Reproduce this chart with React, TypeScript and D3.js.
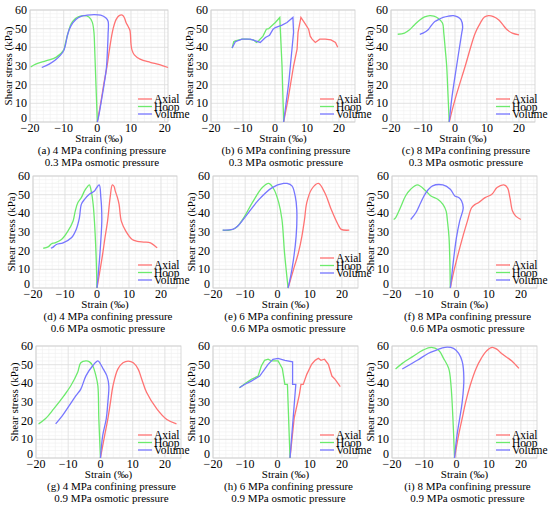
import React from 'react';
import * as d3 from 'd3';

type Pt = [number, number];

const panelLetters = ['a', 'b', 'c', 'd', 'e', 'f', 'g', 'h', 'i'];
const confining = [4, 6, 8, 4, 6, 8, 4, 6, 8];
const osmotic = [0.3, 0.3, 0.3, 0.6, 0.6, 0.6, 0.9, 0.9, 0.9];
const seriesNames = ['Axial', 'Hoop', 'Volume'];
const xTicks = [-20, -10, 0, 10, 20];
const yTicks = [0, 10, 20, 30, 40, 50, 60];

// (a) 4 MPa / 0.3 MPa
const axialA: Pt[] = [[0, 0], [1.0, 10], [1.9, 20], [2.9, 30], [3.7, 40], [4.7, 50], [5.6, 55], [6.5, 57], [7.4, 57.3], [8.0, 56], [8.5, 53.5], [9.2, 51], [9.7, 49], [10.0, 42], [10.3, 38.5], [11, 36], [12.7, 33.7], [15.7, 32], [18.5, 30.8], [21, 29.2]];
const hoopA: Pt[] = [[0, 0], [-0.2, 10], [-0.4, 20], [-0.6, 30], [-0.8, 40], [-1.0, 48], [-1.5, 53.5], [-2.5, 56.3], [-4, 57], [-5.5, 56.5], [-6.5, 55.5], [-7.8, 52.5], [-8.8, 47], [-9.5, 42], [-10, 38.5], [-12.3, 34.6], [-15.3, 32.8], [-18.3, 31], [-19.8, 29.5]];
const volumeA: Pt[] = [[0, 0], [0.4, 3], [1.2, 11.3], [2.0, 20], [2.7, 29], [3.0, 38], [3.2, 47], [3.2, 54], [2.5, 55.8], [1, 57.2], [-1, 57.5], [-3, 57.2], [-5, 56.5], [-6.3, 55], [-7.8, 51.6], [-8.8, 47], [-9.5, 41], [-10.2, 37.5], [-12.3, 33.5], [-14.3, 31], [-16.5, 29.2]];

// (b) 6 MPa / 0.3 MPa
const axialB: Pt[] = [[2.7, 0], [4.1, 12.4], [5.8, 30], [6.9, 39], [7.2, 48], [8.1, 56], [9.5, 52.4], [10.5, 49.7], [11, 46], [11.6, 44.4], [12.6, 42.6], [14, 44.4], [15.7, 44.4], [17.5, 44], [18.9, 42.6], [19.6, 40]];
const hoopB: Pt[] = [[2.7, 0], [2.2, 30], [1.7, 48], [1.5, 56], [0.1, 53.3], [-2, 50], [-2.7, 49.7], [-3.75, 46], [-5.1, 43.5], [-5.8, 42.6], [-6.7, 44], [-8.75, 44.4], [-10.3, 44.4], [-12.4, 43.5], [-12.9, 43], [-13.4, 39.6]];
const volumeB: Pt[] = [[2.7, 0], [4.3, 21], [5.3, 39], [5.8, 48], [5.6, 56], [3.75, 53.3], [2.2, 51.9], [0.1, 50.6], [-0.6, 49.7], [-1.7, 46.5], [-3, 45.3], [-4.6, 42.6], [-6.1, 43.5], [-7.7, 44.4], [-10.3, 44.4], [-12.4, 43], [-13.4, 39.6]];

// (c) 8 MPa / 0.3 MPa
const axialC: Pt[] = [[-1.8, 0], [0, 12], [3.2, 30], [6.3, 47.6], [7.9, 53], [9.2, 56.2], [10.5, 57], [12, 56.5], [13.7, 54.7], [15, 52], [16.3, 49.4], [17.9, 47.6], [20, 46.7]];
const hoopC: Pt[] = [[-1.8, 0], [-2.2, 15], [-2.6, 30], [-3.1, 40], [-3.5, 47.6], [-3.9, 53], [-5.3, 55.6], [-6.6, 56.7], [-7.9, 57], [-9.5, 56.3], [-11, 54.7], [-12.7, 52], [-14.2, 49.4], [-15.8, 47.6], [-17.9, 47]];
const volumeC: Pt[] = [[-1.8, 0], [-1.05, 12], [0.5, 30], [2.1, 47.6], [2.4, 51], [1.9, 54.7], [0.8, 56.3], [-0.5, 57], [-2, 56.7], [-3.7, 56], [-5, 55], [-6.3, 53.8], [-7.5, 51.5], [-8.4, 49.4], [-10, 47.6], [-11, 47]];

// (d) 4 MPa / 0.6 MPa
const axialD: Pt[] = [[0, 0], [0.8, 8], [1.75, 18], [2.5, 27], [3.3, 35.8], [4.1, 48.4], [4.8, 55.2], [5.3, 54.5], [5.7, 52], [6.4, 48.4], [6.9, 44.8], [7.6, 35.8], [9.0, 30.5], [11, 26], [12.6, 25], [14.6, 24.6], [16.7, 24.2], [18.2, 22.4], [18.8, 21.5]];
const hoopD: Pt[] = [[0, 0], [-0.3, 18], [-0.8, 35.8], [-1.2, 44.8], [-1.7, 51], [-2.4, 55.2], [-3.1, 54], [-3.9, 52], [-4.9, 48.4], [-6, 45.7], [-6.8, 41.2], [-7.5, 35.8], [-9.1, 30.5], [-11.1, 26], [-13.2, 24.2], [-14.2, 23.7], [-15.3, 22], [-16.8, 21.3]];
const volumeD: Pt[] = [[0, 0], [0.9, 18], [1.5, 35.8], [1.4, 44], [1.2, 48.4], [0.7, 55.2], [-0.2, 53.5], [-0.8, 52], [-2.4, 50.2], [-3.9, 47.5], [-4.9, 44.8], [-5.5, 37.6], [-6.5, 31.4], [-8, 26.9], [-10.6, 24.2], [-12.7, 23.3], [-13.7, 21.9], [-14.4, 21.3]];

// (e) 6 MPa / 0.6 MPa
const axialE: Pt[] = [[3.3, 0], [5, 10], [6.5, 18.8], [7.6, 27.8], [8.4, 36.7], [9.1, 45.7], [10.6, 52.9], [12.7, 56], [14.7, 51], [16.7, 42], [18.8, 34], [19.8, 31.4], [22.3, 31]];
const hoopE: Pt[] = [[3.3, 0], [2.2, 18.8], [1.4, 36.7], [0.4, 45.7], [-1.1, 52.9], [-2.7, 56], [-4.7, 53.8], [-7.8, 45.7], [-10.8, 36.7], [-12.9, 32.3], [-14.9, 31], [-17, 31]];
const volumeE: Pt[] = [[3.3, 0], [4.5, 10], [5.8, 27.8], [6, 42], [5.5, 49.3], [4.5, 54.7], [3, 56], [1.9, 56], [-1.6, 53.8], [-5.7, 47.5], [-9.8, 38.5], [-12.3, 33.2], [-13.9, 31.4], [-17, 31]];

// (f) 8 MPa / 0.6 MPa
const axialF: Pt[] = [[-1.9, 0], [-0.8, 9], [0.5, 18], [1.9, 27], [3.4, 35.8], [4.7, 43], [5.8, 44.8], [6.8, 45.7], [8.9, 48.4], [11, 50.2], [12.6, 53.8], [14.7, 55.2], [15.8, 53.8], [16.6, 48.4], [17.4, 41.2], [18.4, 38.5], [20, 36.7]];
const hoopF: Pt[] = [[-1.9, 0], [-2.3, 27], [-2.8, 36], [-3.2, 41.2], [-4.2, 44.8], [-5.8, 47.5], [-7.9, 49.3], [-9.5, 52], [-12.1, 55.2], [-14.2, 52.9], [-15.8, 49.3], [-17.4, 43], [-18.9, 37.6], [-19.5, 36.7]];
const volumeF: Pt[] = [[-1.9, 0], [-1.3, 9], [-0.7, 18], [0, 27], [1, 35.8], [2.1, 43], [1.6, 46.6], [0.8, 48.4], [-0.5, 49.3], [-1.9, 52.9], [-4.2, 55.2], [-7.4, 54.7], [-9.5, 51], [-11.1, 45.7], [-12.6, 40.3], [-14.2, 36.7]];

// (g) 4 MPa / 0.9 MPa
const axialG: Pt[] = [[0, 0], [1.3, 12], [2.3, 21], [3.1, 29.8], [3.9, 38.7], [5.4, 47.6], [7, 51], [8.6, 51.9], [10.2, 51], [11.7, 47.6], [12.8, 42.3], [14.3, 35.2], [17.5, 26.3], [20.6, 20.6], [23.6, 18.3]];
const hoopG: Pt[] = [[0, 0], [-0.5, 21], [-0.8, 38.7], [-1.4, 44], [-2.4, 49.4], [-3.4, 51.5], [-4.5, 52], [-6.1, 51], [-7.1, 45.8], [-9.2, 38.7], [-11.3, 33.4], [-14.5, 26.3], [-17.1, 21], [-19.2, 18.3]];
const volumeG: Pt[] = [[0, 0], [0.7, 12], [1.8, 21], [2.3, 29.8], [2.6, 38.7], [2, 44], [0.9, 47.6], [-0.2, 51], [-0.8, 52], [-2.4, 49.4], [-4.5, 44], [-6.1, 36.9], [-7.6, 33.4], [-9.7, 28], [-11.8, 22.7], [-13.9, 18.3]];

// (h) 6 MPa / 0.9 MPa
const axialH: Pt[] = [[3.9, 0], [5.2, 21.5], [6.8, 34], [7.3, 39.4], [8, 39.4], [9.1, 44.8], [10.6, 50.2], [11.7, 52.3], [12.7, 53.4], [13.5, 52.3], [14.6, 52.9], [15.8, 50.2], [16.9, 43.9], [17.9, 42.1], [19.5, 38.2]];
const hoopH: Pt[] = [[3.9, 0], [3.1, 39.4], [2.3, 39.4], [1.5, 48], [0.2, 52], [-1.9, 52], [-2.9, 52.9], [-4, 52.3], [-5, 49.3], [-6, 43.9], [-8.1, 42.1], [-9.7, 40.3], [-11.8, 37.6]];
const volumeH: Pt[] = [[3.9, 0], [5.7, 39.4], [4.7, 39.4], [4.7, 51.5], [2.3, 52.3], [0.2, 53.4], [-1.4, 52.9], [-2.9, 50.2], [-5.5, 43.9], [-8.1, 41.2], [-10.2, 39.4], [-11.8, 37.6]];

// (i) 8 MPa / 0.9 MPa
const axialI: Pt[] = [[-0.6, 0], [0.7, 12.5], [1.8, 21.4], [2.9, 30.2], [4.3, 39.1], [6.1, 48], [7.7, 53.4], [9.4, 57.5], [11.1, 59.3], [12.5, 58.3], [14, 56], [15.6, 54], [17.2, 52], [19.4, 48]];
const hoopI: Pt[] = [[-0.6, 0], [-1.1, 21.4], [-1.7, 39.1], [-2.4, 48], [-4, 53.4], [-5.6, 57.8], [-7.8, 59.3], [-10.4, 57.8], [-13.6, 54.3], [-16.8, 50.7], [-18.9, 47.7]];
const volumeI: Pt[] = [[-0.6, 0], [0.2, 12.5], [1.8, 30.2], [2.3, 42.7], [1.8, 51.6], [0.7, 56], [-0.9, 58.7], [-3.5, 59.3], [-6.2, 57.8], [-8.8, 56], [-12, 52.5], [-16.8, 47.7]];

const panelSeries: Pt[][][] = [
  [axialA, hoopA, volumeA], [axialB, hoopB, volumeB], [axialC, hoopC, volumeC],
  [axialD, hoopD, volumeD], [axialE, hoopE, volumeE], [axialF, hoopF, volumeF],
  [axialG, hoopG, volumeG], [axialH, hoopH, volumeH], [axialI, hoopI, volumeI],
];
const xMaxes = [21, 25, 25, 25, 25, 25, 25, 25, 25];

// layout (pixel boxes of each plot area)
const boxes = [
  { l: 30, r: 168, t: 10, b: 122 }, { l: 211, r: 355, t: 10, b: 122 }, { l: 391, r: 535, t: 10, b: 122 },
  { l: 33, r: 177, t: 176, b: 288 }, { l: 213, r: 358, t: 176, b: 288 }, { l: 392, r: 537, t: 176, b: 288 },
  { l: 36, r: 181, t: 346, b: 458 }, { l: 213, r: 358, t: 346, b: 458 }, { l: 392, r: 537, t: 346, b: 458 },
];
const legendX = [138, 320, 496];
const colors = ['#ff7373', '#6cea6c', '#7676ff'];
const font = "'Liberation Serif', 'DejaVu Serif', serif";

const Panel: React.FC<{ idx: number }> = ({ idx }) => {
  const box = boxes[idx];
  const x = d3.scaleLinear().domain([-20, xMaxes[idx]]).range([box.l, box.r]);
  const y = d3.scaleLinear().domain([0, 60]).range([box.b, box.t]);
  const smooth = idx !== 1 && idx !== 7;
  const line = d3.line<Pt>()
    .x(d => x(d[0]))
    .y(d => y(d[1]))
    .curve(smooth ? d3.curveCatmullRom.alpha(0.5) : d3.curveLinear);
  const minorX = d3.range(-20, xMaxes[idx] + 0.01, 2);
  const minorY = d3.range(0, 60.01, 2);
  const cx = (box.l + box.r) / 2;
  const legY = box.b - (idx === 4 ? 30 : 23);
  const lx = legendX[idx % 3];

  return (
    <g>
      {minorX.map(v => (
        <line key={'mx' + v} x1={x(v)} x2={x(v)} y1={box.t} y2={box.b} stroke="#f0f0f0" strokeWidth={0.6} />
      ))}
      {minorY.map(v => (
        <line key={'my' + v} x1={box.l} x2={box.r} y1={y(v)} y2={y(v)} stroke="#f0f0f0" strokeWidth={0.6} />
      ))}
      {xTicks.map(v => (
        <line key={'gx' + v} x1={x(v)} x2={x(v)} y1={box.t} y2={box.b} stroke="#dedede" strokeWidth={0.7} />
      ))}
      {yTicks.map(v => (
        <line key={'gy' + v} x1={box.l} x2={box.r} y1={y(v)} y2={y(v)} stroke="#dedede" strokeWidth={0.7} />
      ))}
      <rect x={box.l} y={box.t} width={box.r - box.l} height={box.b - box.t} fill="none" stroke="#cfcfcf" strokeWidth={0.8} />

      {panelSeries[idx].map((s, i) => (
        <path key={i} d={line(s) || ''} fill="none" stroke={colors[i]} strokeWidth={1.3} />
      ))}

      {yTicks.map(v => (
        <text key={'ty' + v} x={box.l - 3} y={y(v) - (v === 0 ? 4 : 0)} textAnchor="end" dominantBaseline="central" fontSize={12}>{v}</text>
      ))}
      {xTicks.map(v => (
        <text key={'tx' + v} x={x(v)} y={box.b + 6} textAnchor="middle" dominantBaseline="central" fontSize={12}>
          {v < 0 ? '\u2212' + Math.abs(v) : v}
        </text>
      ))}
      <text transform={`translate(${box.l - 22},${(box.t + box.b) / 2}) rotate(-90)`} textAnchor="middle" dominantBaseline="central" fontSize={11}>
        Shear stress (kPa)
      </text>
      <text x={cx} y={box.b + 16} textAnchor="middle" dominantBaseline="central" fontSize={11}>Strain (‰)</text>
      <text x={cx + 3} y={box.b + 28} textAnchor="middle" dominantBaseline="central" fontSize={11}>
        ({panelLetters[idx]}) {confining[idx]} MPa confining pressure
      </text>
      <text x={cx + 3} y={box.b + 40} textAnchor="middle" dominantBaseline="central" fontSize={11}>
        {osmotic[idx]} MPa osmotic pressure
      </text>

      {seriesNames.map((n, i) => (
        <g key={n}>
          <line x1={lx} x2={lx + 14} y1={legY + i * 7.5} y2={legY + i * 7.5} stroke={colors[i]} strokeWidth={1.3} />
          <text x={lx + 16} y={legY + i * 7.5} dominantBaseline="central" fontSize={11.5}>{n}</text>
        </g>
      ))}
    </g>
  );
};

const App: React.FC = () => {
  return (
    <svg width={550} height={509} style={{ position: 'absolute', left: 0, top: 0, background: '#fff', fontFamily: font }}>
      {panelLetters.map((_, i) => <Panel key={i} idx={i} />)}
    </svg>
  );
};

export default App;
